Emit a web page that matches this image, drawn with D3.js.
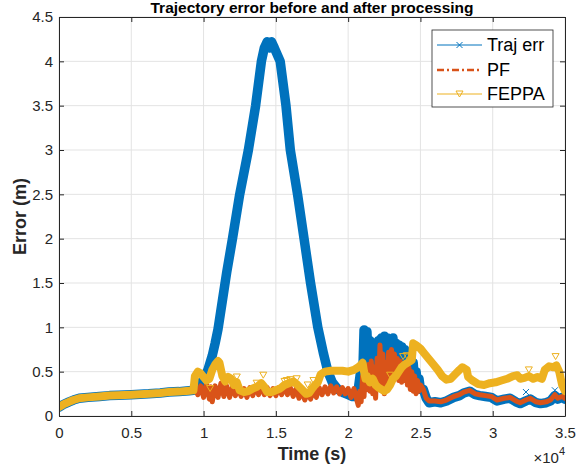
<!DOCTYPE html>
<html>
<head>
<script src="https://d3js.org/d3.v7.min.js" charset="utf-8"></script>
<style>
    body{
        margin:0;
        background:white;
        font-family:Arial,"Liberation Sans",Helvetica,sans-serif;
    }
</style>
</head>
<body>
<div id="chart"></div>
<script>

var xTicks = [0,5000,10000,15000,20000,25000,30000,35000]
var xTickLabels = ["0","0.5","1","1.5","2","2.5","3","3.5"]
var yTicks = [0,0.5,1,1.5,2,2.5,3,3.5,4,4.5]
var yTickLabels = ["0","0.5","1","1.5","2","2.5","3","3.5","4","4.5"]
var seriesNames = ["Traj err","PF","FEPPA"]

// Traj err (blue)
var trajTime = [0,300,700,1000,1400,2000,2800,3500,4100,5000,6200,7000,7600,8300,9000,
    9300,9500,9800,10000,10300,10600,10800,11000,11300,11600,12000,12500,13100,13600,14000,14200,14400,14550,14700,14900,
    15300,15700,16000,16500,16950,17400,17900,18300,18600,18900,19300,19700,20000,20300,20500,20700,20900,
    21000,21100,21200,21300,21400,21500,21600,21700,21800,21900,22000,22100,22200,22300,22400,22500,22600,22700,22800,22900,
    23000,23100,23200,23300,23400,23500,23600,23700,23800,23900,24000,24100,24200,24300,24400,24500,24600,24700,24800,24900,
    25000,25200,25400,25600,26000,26400,26800,27300,27700,28000,28400,28800,29100,29500,29900,30300,30800,31200,31600,31900,
    32300,32600,33000,33300,33700,34000,34300,34500,34800,35000]
var trajErr = [0.10,0.13,0.16,0.18,0.20,0.21,0.22,0.23,0.235,0.24,0.25,0.26,0.27,0.275,0.285,
    0.29,0.31,0.36,0.42,0.52,0.68,0.82,0.98,1.30,1.62,2.00,2.50,3.00,3.50,4.00,4.15,4.22,4.15,4.22,4.15,
    4.00,3.50,3.00,2.50,2.00,1.50,1.00,0.70,0.50,0.38,0.30,0.26,0.24,0.22,0.22,0.30,0.55,
    0.40,0.97,0.60,0.95,0.50,0.85,0.55,0.80,0.45,0.82,0.50,0.85,0.45,0.88,0.55,0.90,0.60,0.88,0.55,0.85,
    0.60,0.88,0.65,0.82,0.60,0.80,0.55,0.78,0.55,0.75,0.50,0.72,0.45,0.70,0.40,0.60,0.38,0.50,0.35,0.42,
    0.30,0.30,0.20,0.15,0.16,0.15,0.17,0.21,0.23,0.26,0.28,0.24,0.23,0.22,0.21,0.17,0.19,0.20,0.16,0.14,
    0.17,0.19,0.15,0.14,0.15,0.17,0.23,0.19,0.21,0.19]

// PF (orange)
var pfTime = [0,300,700,1000,1400,2000,2800,3500,4100,5000,6200,7000,7600,8300,9000,
    9400,9600,9800,10000,10200,10400,10500,10600,10800,11000,11200,11400,11600,11800,12000,12200,12400,12600,12800,13000,
    13200,13400,13600,13800,14000,14200,14400,14600,14800,15000,15200,15400,15600,15800,16000,16200,16400,16600,16800,17000,
    17200,17400,17600,17800,18000,18200,18400,18600,18800,19000,19200,19400,19600,19800,20000,20200,20400,
    20600,20700,20800,20900,21000,21100,21200,21300,21400,21500,21600,21700,21800,21900,22000,22100,22200,22300,22400,22500,
    22600,22700,22800,22900,23000,23100,23200,23300,23400,23500,23600,23700,23800,23900,24000,24100,24200,24300,24400,24500,
    24600,24700,24800,24900,25000,25200,25400,25600,26000,26400,26800,27300,27700,28000,28400,28800,29100,29500,29900,30300,
    30800,31200,31600,31900,32300,32600,33000,33300,33700,34000,34300,34500,34800,35000]
var pfErr = [0.10,0.13,0.16,0.18,0.20,0.21,0.22,0.23,0.235,0.24,0.25,0.26,0.27,0.275,0.285,
    0.31,0.24,0.34,0.21,0.36,0.19,0.33,0.16,0.34,0.21,0.37,0.22,0.34,0.21,0.33,0.23,0.32,0.22,0.31,0.21,
    0.32,0.23,0.33,0.24,0.34,0.24,0.32,0.23,0.31,0.23,0.32,0.24,0.33,0.24,0.32,0.22,0.31,0.20,0.28,0.18,
    0.27,0.19,0.29,0.21,0.32,0.24,0.33,0.25,0.34,0.26,0.33,0.25,0.32,0.25,0.31,0.21,0.31,
    0.18,0.12,0.28,0.16,0.45,0.22,0.50,0.30,0.58,0.28,0.62,0.25,0.55,0.20,0.65,0.30,0.80,0.35,0.70,0.25,
    0.60,0.30,0.72,0.45,0.75,0.50,0.70,0.45,0.65,0.40,0.62,0.38,0.58,0.40,0.60,0.35,0.55,0.30,0.50,0.28,
    0.45,0.25,0.40,0.28,0.35,0.30,0.20,0.17,0.17,0.16,0.18,0.22,0.24,0.27,0.29,0.25,0.24,0.23,0.22,0.18,
    0.20,0.21,0.17,0.15,0.18,0.20,0.16,0.15,0.16,0.18,0.24,0.20,0.22,0.20]

// FEPPA (yellow)
var feppaTime = [0,300,700,1000,1400,2000,2800,3500,4100,5000,6200,7000,7600,8300,9000,
    9300,9400,9600,9800,10000,10200,10400,10600,10800,11000,11100,11300,11500,11700,11900,12100,12300,12500,12800,13100,
    13400,13700,14000,14200,14400,14700,15000,15300,15600,15900,16200,16500,16800,17100,17300,17600,17900,18100,18400,18800,
    19200,19600,20000,20400,20700,20900,21000,21100,21200,21300,21500,21700,21900,22100,22300,22500,22700,22900,23100,23300,
    23500,23700,23900,24100,24300,24400,24500,24700,25000,25300,25600,25900,26200,26500,26800,27100,27400,27700,27900,28200,
    28300,28600,29000,29400,29800,30200,30600,31000,31400,31700,31900,32200,32500,32800,33100,33400,33600,33900,34200,34400,
    34600,34800,35000]
var feppaErr = [0.10,0.13,0.16,0.18,0.20,0.21,0.22,0.23,0.235,0.24,0.25,0.26,0.27,0.275,0.285,
    0.29,0.45,0.50,0.48,0.44,0.40,0.42,0.52,0.58,0.62,0.60,0.45,0.39,0.44,0.42,0.35,0.38,0.29,0.27,0.28,
    0.31,0.33,0.37,0.33,0.27,0.27,0.29,0.31,0.35,0.37,0.39,0.35,0.30,0.25,0.26,0.33,0.38,0.47,0.50,0.51,
    0.51,0.51,0.50,0.52,0.55,0.58,0.60,0.50,0.42,0.45,0.38,0.42,0.35,0.32,0.30,0.28,0.30,0.35,0.42,0.45,
    0.50,0.55,0.58,0.60,0.62,0.63,0.82,0.80,0.76,0.70,0.64,0.58,0.52,0.45,0.41,0.42,0.47,0.52,0.55,0.52,
    0.44,0.40,0.36,0.35,0.37,0.38,0.40,0.42,0.45,0.46,0.42,0.43,0.45,0.42,0.44,0.42,0.52,0.56,0.55,0.57,
    0.50,0.35,0.28]

// stray markers that stick out of the bands
var feppaMarkTime = [10450,12300,13670,14130,15600,15750,16000,16440,17200,17600,22900,23800,24050,24350,32500,34350]
var feppaMarkErr = [0.31,0.44,0.37,0.46,0.39,0.40,0.41,0.42,0.35,0.40,0.46,0.67,0.68,0.67,0.52,0.67]
var trajMarkTime = [32300,34300]
var trajMarkErr = [0.27,0.29]

var colors = ["#0072BD","#D95319","#EDB120"]
var axisColor = "#262626"
var gridColor = "#e3e3e3"

var W = 576, H = 472
var plotLeft = 59, plotRight = 565, plotTop = 17, plotBottom = 416

var xScale = d3.scaleLinear().domain([0,35000]).range([plotLeft,plotRight])
var yScale = d3.scaleLinear().domain([0,4.5]).range([plotBottom,plotTop])

var svg = d3.select("#chart").append("svg")
    .attr("width",W).attr("height",H)
    .style("display","block")

svg.append("rect").attr("width",W).attr("height",H).attr("fill","white")

// grid
var grid = svg.append("g")
grid.selectAll(".gx").data(xTicks).enter().append("line")
    .attr("x1",d=>xScale(d)).attr("x2",d=>xScale(d))
    .attr("y1",plotTop).attr("y2",plotBottom)
    .attr("stroke",gridColor).attr("stroke-width",1)
grid.selectAll(".gy").data(yTicks).enter().append("line")
    .attr("x1",plotLeft).attr("x2",plotRight)
    .attr("y1",d=>yScale(d)).attr("y2",d=>yScale(d))
    .attr("stroke",gridColor).attr("stroke-width",1)

svg.append("clipPath").attr("id","plotclip").append("rect")
    .attr("x",plotLeft).attr("y",plotTop).attr("width",plotRight-plotLeft).attr("height",plotBottom-plotTop)

var plot = svg.append("g").attr("clip-path","url(#plotclip)")

function pairs(ts,vs){
    return ts.map(function(t,i){return [t,vs[i]]})
}

var line = d3.line().x(d=>xScale(d[0])).y(d=>yScale(d[1]))

var trajData = pairs(trajTime,trajErr)
var pfData = pairs(pfTime,pfErr)
var feppaData = pairs(feppaTime,feppaErr)

// Traj err: dense x markers make a thick band
plot.append("path").attr("d",line(trajData))
    .attr("fill","none").attr("stroke",colors[0])
    .attr("stroke-width",9.5).attr("stroke-linejoin","round").attr("stroke-linecap","round")

plot.selectAll(".tm").data(pairs(trajMarkTime,trajMarkErr)).enter().append("path")
    .attr("d","M-3,-3L3,3M-3,3L3,-3")
    .attr("transform",d=>"translate("+xScale(d[0])+","+yScale(d[1])+")")
    .attr("stroke",colors[0]).attr("stroke-width",1).attr("fill","none")

// PF
plot.append("path").attr("d",line(pfData))
    .attr("fill","none").attr("stroke",colors[1])
    .attr("stroke-width",5).attr("stroke-linejoin","round").attr("stroke-linecap","round")

// FEPPA
plot.append("path").attr("d",line(feppaData))
    .attr("fill","none").attr("stroke",colors[2])
    .attr("stroke-width",8).attr("stroke-linejoin","round").attr("stroke-linecap","round")

var tri = "M-3.5,-3L3.5,-3L0,3Z"
plot.selectAll(".fm").data(pairs(feppaMarkTime,feppaMarkErr)).enter().append("path")
    .attr("d",tri)
    .attr("transform",d=>"translate("+xScale(d[0])+","+yScale(d[1])+")")
    .attr("stroke",colors[2]).attr("stroke-width",1).attr("fill","none")

// axes, ticks inside like matlab
function styleAxis(g){
    g.select(".domain").attr("stroke",axisColor)
    g.selectAll(".tick line").attr("stroke",axisColor)
    g.selectAll(".tick text").attr("fill",axisColor).attr("font-size",15)
        .attr("font-family","Arial,'Liberation Sans',Helvetica,sans-serif")
}

var xAxis = d3.axisBottom(xScale).tickValues(xTicks)
    .tickFormat(function(d,i){return xTickLabels[i]})
    .tickSizeInner(-5).tickSizeOuter(0).tickPadding(11)
svg.append("g").attr("transform","translate(0,"+plotBottom+")").call(xAxis).call(styleAxis)

var xAxisTop = d3.axisTop(xScale).tickValues(xTicks).tickFormat("")
    .tickSizeInner(-5).tickSizeOuter(0)
svg.append("g").attr("transform","translate(0,"+plotTop+")").call(xAxisTop).call(styleAxis)

var yAxis = d3.axisLeft(yScale).tickValues(yTicks)
    .tickFormat(function(d,i){return yTickLabels[i]})
    .tickSizeInner(-5).tickSizeOuter(0).tickPadding(6)
svg.append("g").attr("transform","translate("+plotLeft+",0)").call(yAxis).call(styleAxis)

var yAxisRight = d3.axisRight(yScale).tickValues(yTicks).tickFormat("")
    .tickSizeInner(-5).tickSizeOuter(0)
svg.append("g").attr("transform","translate("+plotRight+",0)").call(yAxisRight).call(styleAxis)

svg.selectAll(".domain").attr("fill","none")

// title & labels
svg.append("text").text("Trajectory error before and after processing")
    .attr("x",(plotLeft+plotRight)/2).attr("y",12.5)
    .attr("text-anchor","middle").attr("font-weight","bold").attr("font-size",15.5)
    .attr("fill","#000")

svg.append("text").text("Time (s)")
    .attr("x",(plotLeft+plotRight)/2).attr("y",460)
    .attr("text-anchor","middle").attr("font-weight","bold").attr("font-size",18)
    .attr("fill",axisColor)

svg.append("text").text("Error (m)")
    .attr("transform","translate(26,"+((plotTop+plotBottom)/2)+") rotate(-90)")
    .attr("text-anchor","middle").attr("font-weight","bold").attr("font-size",18)
    .attr("fill",axisColor)

var expo = svg.append("text").attr("x",plotRight).attr("y",463)
    .attr("text-anchor","end").attr("fill",axisColor).attr("font-size",15)
expo.append("tspan").text("\u00d710")
expo.append("tspan").text("4").attr("font-size",11).attr("dy",-8)

// legend
var legend = svg.append("g")
legend.append("rect").attr("x",432).attr("y",30).attr("width",121).attr("height",77)
    .attr("fill","white").attr("stroke",axisColor).attr("stroke-width",0.8)

var legendY = [45,70,94]
seriesNames.forEach(function(name,i){
    var ly = legendY[i]
    var ln = legend.append("line").attr("x1",437).attr("x2",482).attr("y1",ly).attr("y2",ly)
        .attr("stroke",colors[i]).attr("stroke-width",i==1?2.5:1)
    if(i==1){ ln.attr("stroke-dasharray","7,3,2,3") }
    if(i==0){
        legend.append("path").attr("d","M-3,-3L3,3M-3,3L3,-3")
            .attr("transform","translate(459.5,"+ly+")")
            .attr("stroke",colors[0]).attr("fill","none")
    }
    if(i==2){
        legend.append("path").attr("d",tri)
            .attr("transform","translate(459.5,"+ly+")")
            .attr("stroke",colors[2]).attr("fill","none")
    }
    legend.append("text").text(name).attr("x",487).attr("y",ly).attr("dy","0.35em")
        .attr("font-size",18).attr("fill","#000")
})

</script>
</body>
</html>
